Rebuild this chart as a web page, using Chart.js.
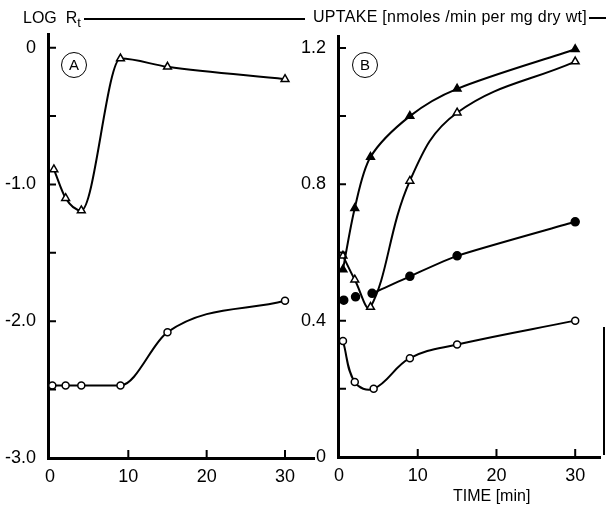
<!DOCTYPE html>
<html>
<head>
<meta charset="utf-8">
<script src="https://cdn.jsdelivr.net/npm/chart.js@4"></script>
<style>
  body { margin: 0; background: #fff; }
  #wrap { position: relative; width: 606px; height: 510px; overflow: hidden; font-family: "Liberation Sans", Arial, sans-serif; color: #000; }
  canvas { position: absolute; top: 0; }
  .txt { position: absolute; font-size: 15px; white-space: nowrap; }
  .rule { position: absolute; background: #000; }
  .tag { position: absolute; width: 24px; height: 24px; border: 1.5px solid #000; border-radius: 50%; text-align: center; line-height: 24px; font-size: 15px; }
</style>
</head>
<body>
<div id="wrap">
  <canvas id="chartA" width="320" height="510" style="left:0"></canvas>
  <canvas id="chartB" width="306" height="510" style="left:300px"></canvas>
  <div class="txt" style="left:23px; top:9px; font-size:16px;">LOG&nbsp; R<sub style="font-size:13px">t</sub></div>
  <div class="rule" style="left:84px; top:18px; width:221px; height:1.5px;"></div>
  <div class="txt" style="left:313px; top:8px; font-size:16px; letter-spacing:0.3px;">UPTAKE [nmoles /min per mg dry wt]</div>
  <div class="rule" style="left:589px; top:17px; width:17px; height:1.5px;"></div>
  <div class="rule" style="left:603px; top:327px; width:2px; height:128px;"></div>
  <div class="tag" style="left:61px; top:52px;">A</div>
  <div class="tag" style="left:352px; top:52px;">B</div>
  <div class="txt" style="left:453px; top:487px; font-size:16px;">TIME [min]</div>
</div>
<script>
// panel A: log Rt against time
const timeTriA = [0.5, 2, 4, 9, 15, 30];
const logRtTri = [-0.89, -1.10, -1.19, -0.08, -0.14, -0.23];
const timeCircA = [0.3, 2, 4, 9, 15, 30];
const logRtCirc = [-2.47, -2.47, -2.47, -2.47, -2.08, -1.85];

// panel B: uptake (nmoles/min per mg dry wt) against time
const timeB = [0.5, 2, 4, 9, 15, 30];
const uptakeFilledTri = [0.55, 0.73, 0.88, 1.00, 1.08, 1.196];
const uptakeOpenTri = [0.59, 0.52, 0.44, 0.81, 1.01, 1.16];
const timeFilledCirc = [0.6, 2.1, 4.2, 9, 15, 30];
const uptakeFilledCirc = [0.46, 0.47, 0.48, 0.53, 0.59, 0.69];
const timeOpenCirc = [0.5, 2, 4.4, 9, 15, 30];
const uptakeOpenCirc = [0.34, 0.22, 0.20, 0.29, 0.33, 0.40];

const pts = (xs, ys) => xs.map((x, i) => ({ x: x, y: ys[i] }));
const FONT = { family: "Liberation Sans", size: 18 };

// tick marks drawn inside the axes, like the original
const innerTicks = {
  id: "innerTicks",
  afterDraw(chart) {
    const { ctx, chartArea, scales: { x, y } } = chart;
    ctx.save();
    ctx.strokeStyle = "#000";
    ctx.lineWidth = 2;
    ctx.beginPath();
    y.ticks.forEach(t => {
      const py = y.getPixelForValue(t.value);
      ctx.moveTo(chartArea.left, py);
      ctx.lineTo(chartArea.left + 8, py);
    });
    x.ticks.forEach(t => {
      if (t.value === 0) return;
      const px = x.getPixelForValue(t.value);
      ctx.moveTo(px, chartArea.bottom);
      ctx.lineTo(px, chartArea.bottom - 8);
    });
    ctx.stroke();
    ctx.restore();
  }
};

function series(data, style, filled, radius, extra) {
  return Object.assign({
    data: data,
    showLine: true,
    borderColor: "#000",
    borderWidth: 2,
    tension: 0.4,
    pointStyle: style,
    pointRadius: radius,
    pointBorderWidth: 1.5,
    pointBorderColor: "#000",
    pointBackgroundColor: filled ? "#000" : "#fff",
    clip: false
  }, extra || {});
}

function makeOptions(xr, yr, axisW, axisH, pad, yLabel) {
  return {
    responsive: false,
    animation: false,
    layout: { padding: pad },
    plugins: { legend: { display: false }, tooltip: { enabled: false } },
    scales: {
      x: {
        type: "linear",
        min: xr[0], max: xr[1],
        grid: { display: false },
        border: { display: true, width: 3, color: "#000" },
        ticks: { stepSize: 10, includeBounds: false, color: "#000", font: FONT, padding: 0 },
        afterFit(s) { s.height = axisH; }
      },
      y: {
        type: "linear",
        min: yr[0], max: yr[1],
        grid: { display: false },
        border: { display: true, width: 3, color: "#000" },
        ticks: { stepSize: yr[2], includeBounds: false, color: "#000", font: FONT, padding: 4, callback: yLabel },
        afterFit(s) { s.width = axisW; }
      }
    }
  };
}

new Chart(document.getElementById("chartA"), {
  type: "scatter",
  data: {
    datasets: [
      series(pts(timeTriA, logRtTri), "triangle", false, 4.5, { cubicInterpolationMode: "monotone" }),
      series(pts(timeCircA, logRtCirc), "circle", false, 3.5, { cubicInterpolationMode: "monotone" })
    ]
  },
  options: makeOptions([-0.25, 33.7], [-3, 0.1, 0.5], 48, 52, { top: 34, right: 4, left: 0, bottom: 0 },
    v => Number.isInteger(v) ? (v === 0 ? "0" : v.toFixed(1)) : ""),
  plugins: [innerTicks]
});

new Chart(document.getElementById("chartB"), {
  type: "scatter",
  data: {
    datasets: [
      series(pts(timeB, uptakeFilledTri), "triangle", true, 4.5, { tension: 0.3 }),
      series(pts(timeB, uptakeOpenTri), "triangle", false, 4.5),
      series(pts(timeFilledCirc, uptakeFilledCirc), "circle", true, 4, {
        tension: 0.2,
        segment: { borderColor: c => c.p1DataIndex <= 2 ? "rgba(0,0,0,0)" : "#000" }
      }),
      series(pts(timeOpenCirc, uptakeOpenCirc), "circle", false, 3.5)
    ]
  },
  options: makeOptions([-0.13, 33.15], [0, 1.235, 0.2], 38, 53, { top: 36, right: 4, left: 0, bottom: 0 },
    v => Math.round(v * 10) % 4 === 0 ? (v === 0 ? "0" : v.toFixed(1)) : ""),
  plugins: [innerTicks]
});
</script>
</body>
</html>
